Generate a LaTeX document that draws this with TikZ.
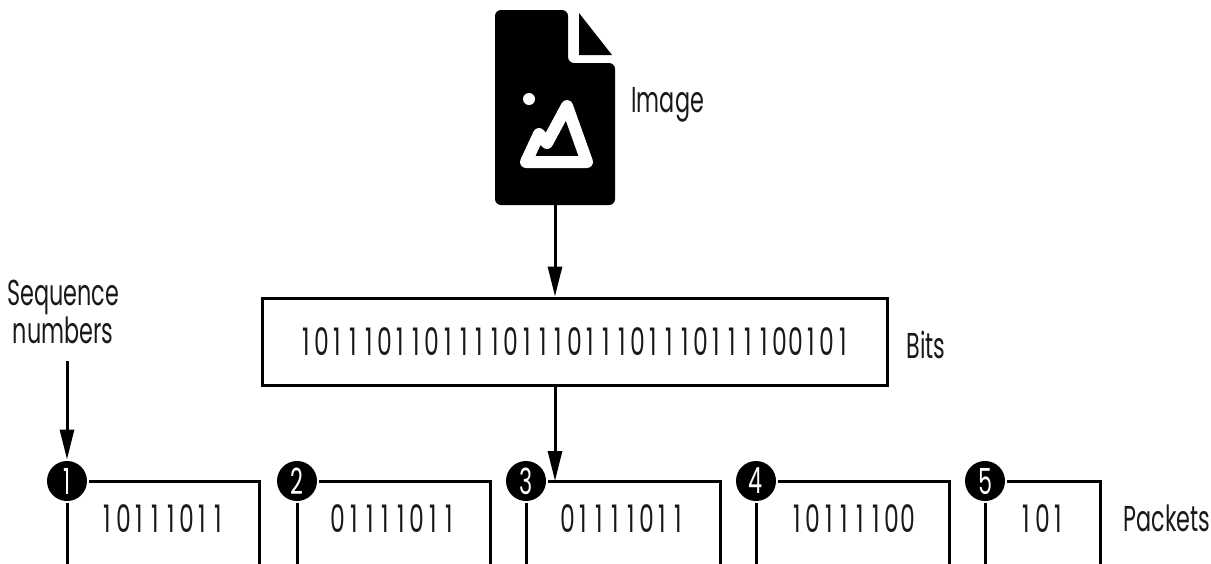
\documentclass[tikz,border=0pt]{standalone}
\usepackage{fontspec}
\setmainfont[FakeStretch=0.62]{Poppins}
\usetikzlibrary{arrows.meta}
\usetikzlibrary{calc}
\tikzset{>={Triangle[length=15pt,width=7pt]}}
\newcommand\bitrow[1]{\bitrowstep#1\relax}
\def\bitrowstep#1{\ifx\relax#1\else\makebox[7.9pt]{#1}\expandafter\bitrowstep\fi}
\tikzset{
    seqnum/.style={circle,fill=black,text=white,minimum size=20pt,inner sep=0pt,font=\fontsize{18}{18}\selectfont},
    lbl/.style={font=\fontsize{18}{17.5}\selectfont,text=black!90,inner sep=0pt},
    bitlbl/.style={lbl,font=\fontsize{19}{19}\selectfont},
}

\begin{document}
\begin{tikzpicture}[x=0.5pt,y=-0.5pt,line width=1.5pt]
    \useasboundingbox (0,0) rectangle (1211,563);
    \clip (0,0) rectangle (1211,563);
    \fill[rounded corners=3pt] (495,10) -- (568,10) -- (568,63) -- (615,63) -- (615,205) -- (495,205) -- cycle;
    \fill (579,13) -- (579,55) -- (612,55) -- cycle;
    \fill[white] (529,99) circle (6);
    \draw[white,line width=6pt,line join=round] (526,162) -- (539,134) -- (547,143) -- (567,106) -- (587,162) -- cycle;
    \coordinate (icon) at (555,205);
    \node[lbl,anchor=west] (img) at (630,105) {Image};
    \node[draw,bitlbl,minimum width=312.5pt,minimum height=43.5pt] (bits) at (574.5,341.5) {\bitrow{10111011011110111011101110111100101}};
    \node[lbl,anchor=west] (bitslbl) at (905,345) {Bits};
    \node[lbl,align=center] (seq) at (63,312) {Sequence\\numbers};
    \foreach \cx/\rx/\val [count=\n] in {67/259/10111011,297/490/01111011,526/720/01111011,756/949/10111100,985/1100/101} {
        \node[seqnum] (s\n) at (\cx,481) {\n};
        \draw (s\n.east) -- (\rx,481) -- (\rx,600);
        \draw (s\n.south) -- (\cx,600);
        \node[bitlbl] (p\n) at ({(\cx+\rx)/2},519) {\expandafter\bitrow\expandafter{\val}};
    }
    \node[lbl,anchor=west] (pk) at (1122,518) {Packets};
    \draw[->] (icon) -- (bits.north -| icon);
    \draw[->] (bits.south -| icon) -- (icon |- s3);
    \draw[->] ($(seq.south -| s1)+(0,-8pt)$) -- (s1.north);
\end{tikzpicture}
\end{document}
